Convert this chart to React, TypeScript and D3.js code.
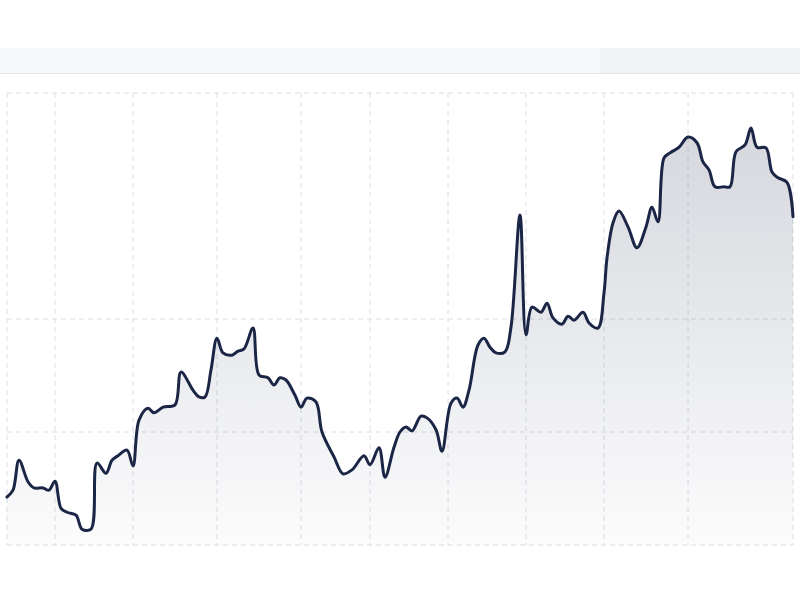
import { scaleLinear, area, line, curveCatmullRom } from 'd3';

const WIDTH = 800;
const HEIGHT = 600;

// day index along the x axis
const days = [
  0, 2, 4, 7, 9, 12, 14, 16, 18, 20, 23, 25, 28, 30, 33, 35, 37, 40, 42, 44,
  47, 49, 52, 56, 58, 62, 64, 66, 68, 70, 72, 75, 77, 79, 82, 84, 87, 89, 91, 93,
  96, 98, 100, 103, 105, 109, 112, 115, 119, 121, 124, 126, 129, 131, 133, 135, 138, 140, 143, 145,
  148, 150, 152, 154, 157, 159, 161, 163, 166, 168, 171, 173, 175, 178, 180, 182, 185, 187, 189, 192,
  194, 197, 199, 200, 202, 204, 207, 210, 213, 215, 217, 219, 221, 224, 227, 230, 232, 234, 236, 239,
  241, 243, 246, 248, 250, 253, 255, 257, 260, 262,
];

// price at each day
const prices = [
  108.5, 109.7, 115.0, 111.2, 110.1, 110.1, 109.7, 111.3, 106.5, 105.8, 105.3, 102.8, 102.8, 114.5, 112.7, 115.0, 115.8, 116.8, 114.0, 122.1,
  124.2, 123.4, 124.4, 124.8, 130.6, 127.4, 126.2, 126.2, 131.0, 136.6, 134.0, 133.6, 134.3, 134.7, 138.4, 130.1, 129.6, 128.3, 129.6, 129.2,
  126.5, 124.4, 126.0, 125.3, 120.0, 115.6, 112.6, 113.3, 115.8, 114.2, 117.2, 112.0, 117.3, 120.0, 120.9, 120.2, 122.8, 122.5, 120.4, 116.6,
  125.1, 126.0, 124.4, 127.4, 135.4, 136.6, 135.0, 134.0, 134.2, 138.6, 158.4, 137.2, 142.1, 141.2, 142.8, 140.2, 139.1, 140.5, 139.8, 141.2,
  139.3, 138.4, 144.6, 150.8, 157.0, 159.1, 156.3, 152.6, 156.3, 159.8, 157.2, 168.5, 169.4, 170.4, 172.2, 171.2, 167.8, 166.4, 163.4, 163.4,
  163.4, 169.6, 170.8, 173.8, 170.4, 170.3, 166.0, 165.0, 164.2, 158.1,
];

const xTicks = [0, 16, 42, 70, 98, 121, 147, 173, 199, 227, 262];
const yTicks = [100, 120, 140, 180];

const data = days.map((d, i) => ({ day: d, price: prices[i] }));

export default function App() {
  const x = scaleLinear().domain([0, 262]).range([7, 793]);
  const y = scaleLinear().domain([100, 180]).range([545, 93]);
  const curve = curveCatmullRom.alpha(0.5);

  const linePath = line<{ day: number; price: number }>()
    .x(d => x(d.day))
    .y(d => y(d.price))
    .curve(curve)(data);

  const areaPath = area<{ day: number; price: number }>()
    .x(d => x(d.day))
    .y0(y(100))
    .y1(d => y(d.price))
    .curve(curve)(data);

  return (
    <svg
      width={WIDTH}
      height={HEIGHT}
      style={{ position: 'absolute', left: 0, top: 0, background: '#fff' }}
    >
      <defs>
        <linearGradient id="fade" gradientUnits="userSpaceOnUse" x1="0" y1={y(180)} x2="0" y2={y(100)}>
          <stop offset="0%" stopColor="#1e2a4a" stopOpacity={0.2} />
          <stop offset="100%" stopColor="#1e2a4a" stopOpacity={0.015} />
        </linearGradient>
      </defs>

      {/* header strip */}
      <rect x={0} y={48} width={600} height={25} fill="#f8f9fb" />
      <rect x={600} y={48} width={200} height={25} fill="#f3f4f6" />
      <line x1={0} x2={WIDTH} y1={73.5} y2={73.5} stroke="#e2e4ea" />

      {yTicks.map(t => (
        <line
          key={'y' + t}
          x1={x(0)}
          x2={x(262)}
          y1={y(t)}
          y2={y(t)}
          stroke="#dcdee5"
          strokeDasharray="5 4"
        />
      ))}
      {xTicks.map(t => (
        <line
          key={'x' + t}
          x1={x(t)}
          x2={x(t)}
          y1={y(180)}
          y2={y(100)}
          stroke="#dcdee5"
          strokeDasharray="5 4"
        />
      ))}

      <path d={areaPath ?? ''} fill="url(#fade)" />
      <path
        d={linePath ?? ''}
        fill="none"
        stroke="#1b2646"
        strokeWidth={3}
        strokeLinejoin="round"
        strokeLinecap="round"
      />
    </svg>
  );
}
